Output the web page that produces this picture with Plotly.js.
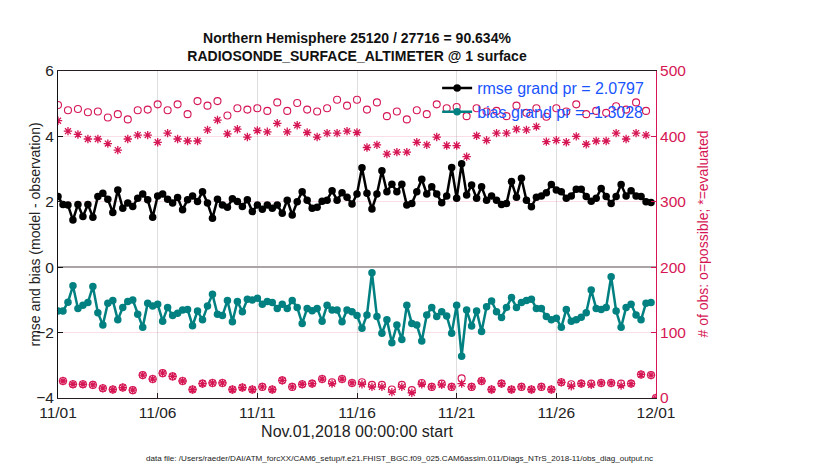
<!DOCTYPE html>
<html><head><meta charset="utf-8">
<script src="https://cdn.plot.ly/plotly-3.0.1.min.js"></script>
<style>html,body{margin:0;padding:0;background:#fff}#chart{width:830px;height:470px}</style>
</head><body><div id="chart"></div>
<script>
// ---- data ----
const startTime = Date.UTC(2018, 10, 1, 0, 0, 0);
const stepHours = 6;
const axisRange = ['2018-11-01 00:00', '2018-12-01 00:00'];
const tickDates = ['2018-11-01', '2018-11-06', '2018-11-11', '2018-11-16', '2018-11-21', '2018-11-26', '2018-12-01'];
const tickLabels = ['11/01', '11/06', '11/11', '11/16', '11/21', '11/26', '12/01'];

const rmse = [
 2.16,1.92,1.90,1.44,1.92,1.55,1.92,1.53,2.16,2.26,
 2.08,1.67,2.36,1.80,1.96,1.86,2.11,2.24,2.06,1.53,
 2.18,2.24,2.08,1.96,2.13,1.76,2.06,2.18,2.01,2.31,
 1.96,1.50,2.08,1.90,1.83,2.09,2.01,1.86,2.06,1.70,
 1.90,1.77,1.90,1.80,1.90,1.65,2.05,1.60,2.00,2.31,
 2.05,1.80,1.83,2.02,2.05,2.34,2.05,2.28,2.14,1.93,
 2.24,3.04,2.26,1.78,2.24,2.95,2.31,2.54,2.31,2.54,
 1.90,1.95,2.31,2.69,2.24,2.46,2.24,1.97,2.18,3.05,
 2.11,3.16,2.21,2.51,2.11,2.46,2.05,2.18,2.05,1.92,
 1.95,2.62,2.14,2.72,2.05,1.85,2.14,2.18,2.28,2.53,
 2.36,2.31,2.11,2.18,2.38,2.38,2.16,2.02,2.11,2.41,
 2.16,1.95,2.16,2.53,2.18,2.34,2.18,2.16,2.00,1.98
];
const bias = [
 -1.34,-1.34,-1.07,-0.57,-1.26,-1.16,-1.08,-0.59,-1.39,-1.77,
 -1.10,-1.02,-1.61,-1.23,-1.05,-1.00,-1.44,-1.84,-1.10,-1.19,
 -1.13,-1.65,-1.23,-1.48,-1.41,-1.31,-1.29,-1.79,-1.34,-1.61,
 -1.19,-0.83,-1.44,-1.48,-1.02,-1.67,-1.05,-1.36,-0.98,-1.00,
 -0.95,-1.13,-1.05,-1.08,-1.26,-1.13,-1.26,-1.02,-1.23,-1.72,
 -1.26,-1.33,-1.26,-1.65,-1.16,-1.31,-1.31,-1.67,-1.31,-1.36,
 -1.48,-1.87,-1.46,-0.17,-1.51,-2.02,-1.61,-2.31,-1.77,-2.21,
 -1.16,-1.72,-1.77,-2.26,-1.46,-1.23,-1.51,-1.36,-1.49,-2.02,
 -1.16,-2.72,-1.31,-1.80,-1.34,-1.97,-1.21,-1.03,-1.36,-1.54,
 -1.23,-0.93,-1.23,-1.08,-1.02,-0.98,-1.26,-1.26,-1.51,-1.61,
 -1.56,-1.84,-1.29,-1.65,-1.61,-1.53,-1.39,-0.70,-1.26,-1.29,
 -1.23,-0.29,-1.34,-1.84,-1.23,-1.13,-1.46,-1.61,-1.10,-1.08
];
const possible = [
 448,26,440,21,442,21,437,20,438,15,
 429,13,434,16,426,12,440,35,441,29,
 449,38,440,33,449,26,434,13,454,22,
 447,23,454,23,432,13,443,16,441,13,
 443,17,439,13,452,27,439,17,451,21,
 441,22,438,29,443,24,456,29,447,23,
 456,24,441,20,452,20,431,13,438,20,
 426,12,440,23,434,17,449,22,443,17,
 445,30,431,17,443,26,438,13,439,22,
 431,13,447,17,436,13,443,17,430,13,
 443,24,438,21,449,22,434,22,439,23,
 436,23,446,22,441,22,452,36,439,35,
 0
];
const evaluated = [
 424,26,408,21,403,21,396,20,396,15,
 389,13,379,16,396,12,402,35,402,29,
 391,38,405,33,396,26,393,13,393,22,
 410,23,425,23,404,13,411,16,399,13,
 409,17,407,13,420,27,407,17,417,21,
 406,22,399,29,405,22,405,29,408,23,
 406,21,383,17,387,17,373,9,376,17,
 376,8,391,21,387,17,399,20,386,17,
 386,22,369,17,401,26,394,13,405,22,
 405,13,411,17,410,13,415,17,392,13,
 394,24,391,18,400,22,388,20,393,23,
 393,23,405,19,396,22,405,36,402,35,
 0
];
const rmseName = 'rmse grand pr = 2.0797';
const biasName = 'bias grand pr = -1.3028';
const titleLines = ['Northern Hemisphere 25120 / 27716 = 90.634%', 'RADIOSONDE_SURFACE_ALTIMETER @ 1 surface'];
const xTitle = 'Nov.01,2018 00:00:00 start';
const yTitle = 'rmse and bias (model - observation)';
const y2Title = '# of obs: o=possible; *=evaluated';
const dataFile = 'data file: /Users/raeder/DAI/ATM_forcXX/CAM6_setup/f.e21.FHIST_BGC.f09_025.CAM6assim.011/Diags_NTrS_2018-11/obs_diag_output.nc';

// ---- build ----
function timeAt(i) {
  const d = new Date(startTime + i * stepHours * 3600 * 1000);
  return d.toISOString().slice(0, 19).replace('T', ' ');
}
const tLines = rmse.map((_, i) => timeAt(i));
const tCounts = possible.map((_, i) => timeAt(i));

const CRIMSON = 'rgb(214,22,84)';
const TEAL = 'rgb(0,128,128)';
const FONT = '"Liberation Sans", Arial, Helvetica, sans-serif';

const traces = [
  { x: tCounts, y: possible, yaxis: 'y2', type: 'scatter', mode: 'markers', showlegend: false,
    marker: { symbol: 'circle-open', size: 7, color: CRIMSON, line: { width: 1.1, color: CRIMSON } }, hoverinfo: 'skip' },
  { x: tCounts, y: evaluated, yaxis: 'y2', type: 'scatter', mode: 'markers', showlegend: false,
    marker: { symbol: 'asterisk-open', size: 7, color: CRIMSON, line: { width: 1.3, color: CRIMSON } }, hoverinfo: 'skip' },
  { x: tLines, y: rmse, type: 'scatter', mode: 'lines+markers', name: rmseName,
    line: { color: 'black', width: 2.5 }, marker: { symbol: 'circle', size: 7.5, color: 'black' } },
  { x: tLines, y: bias, type: 'scatter', mode: 'lines+markers', name: biasName,
    line: { color: TEAL, width: 2.5 }, marker: { symbol: 'circle', size: 7.5, color: TEAL } }
];

const PL = 58, PR = 656, PT = 71, PB = 398;
const pxToPaperX = px => (px - PL) / (PR - PL);

const layout = {
  width: 830, height: 470,
  margin: { l: PL, r: 830 - PR, t: PT, b: 470 - PB, pad: 0 },
  paper_bgcolor: 'white', plot_bgcolor: 'white',
  font: { family: FONT, size: 15, color: '#222' },
  title: { text: '<b>' + titleLines.join('<br>') + '</b>', x: 0.5, xref: 'paper', xanchor: 'center',
    y: 0.908, yref: 'container', yanchor: 'top', font: { size: 14, color: '#111', family: FONT } },
  showlegend: true,
  legend: { x: 0.634, xanchor: 'left', y: 1.0, yanchor: 'top', bgcolor: 'rgba(0,0,0,0)', borderwidth: 0,
    font: { size: 16, color: 'rgb(25,85,255)', family: FONT }, tracegroupgap: 0, itemwidth: 30 },
  xaxis: {
    type: 'date', range: axisRange, tickvals: tickDates, ticktext: tickLabels,
    showgrid: true, gridcolor: '#dedede', gridwidth: 1,
    ticks: 'inside', ticklen: 5, tickcolor: '#2a1a22',
    showline: true, linecolor: '#2a1a22', linewidth: 1, mirror: true,
    zeroline: false, tickfont: { size: 15.5, color: '#222' },
    title: { text: xTitle, font: { size: 16, color: '#222' }, standoff: 6 }
  },
  yaxis: {
    range: [-4, 6], tick0: -4, dtick: 2, ticks: 'inside', ticklen: 5, tickcolor: '#111',
    showline: true, linecolor: '#111', linewidth: 1, showgrid: false,
    zeroline: true, zerolinecolor: '#aaa4a4', zerolinewidth: 2,
    tickfont: { size: 15.5, color: '#222' }
  },
  yaxis2: {
    overlaying: 'y', side: 'right', range: [0, 500], tick0: 0, dtick: 100,
    ticks: 'inside', ticklen: 5, tickcolor: CRIMSON,
    showline: true, linecolor: CRIMSON, linewidth: 1,
    showgrid: true, gridcolor: 'rgba(214,22,84,0.14)', zeroline: false,
    tickfont: { size: 15.5, color: CRIMSON }
  },
  annotations: [
    { text: yTitle, textangle: -90, xref: 'paper', yref: 'paper', x: pxToPaperX(34), y: 0.5,
      xanchor: 'center', yanchor: 'middle', showarrow: false, font: { size: 14, color: '#222', family: FONT } },
    { text: y2Title, textangle: -90, xref: 'paper', yref: 'paper', x: pxToPaperX(702), y: 0.5,
      xanchor: 'center', yanchor: 'middle', showarrow: false, font: { size: 14, color: CRIMSON, family: FONT } },
    { text: dataFile, xref: 'paper', yref: 'paper', x: pxToPaperX(399), y: -0.185, xanchor: 'center', yanchor: 'middle',
      showarrow: false, font: { size: 8.1, color: '#222', family: FONT } }
  ]
};

Plotly.newPlot('chart', traces, layout, { displayModeBar: false, staticPlot: true });
</script>
</body></html>
